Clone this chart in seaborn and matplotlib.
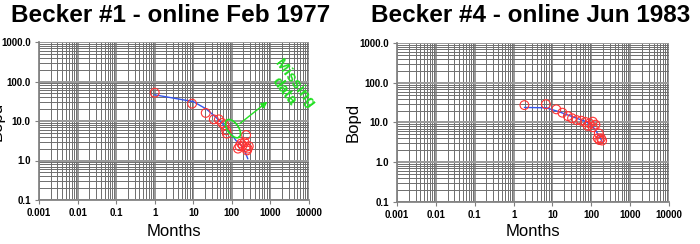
import numpy as np
import pandas as pd
import matplotlib
matplotlib.use("Agg")
import matplotlib.pyplot as plt
import seaborn as sns
from matplotlib.ticker import LogLocator, FixedLocator, NullFormatter

sns.set_theme(style="white")
plt.rcParams['font.family'] = ['Liberation Sans', 'DejaVu Sans']

# ---- data ----
titles = ["Becker #1 - online Feb 1977", "Becker #4 - online Jun 1983"]

w1_months = [1.0, 9.3, 21, 34, 46, 56, 65, 71, 74, 158, 234, 214, 191, 257, 229, 174, 275, 247, 144]
w1_bopd = [52, 27.5, 16, 11, 11, 8.9, 7.8, 5.8, 4.8, 2.3, 4.4, 2.9, 2.4, 2.0, 2.2, 2.7, 2.3, 1.8, 2.0]
w1_fit_months = [1, 10, 22, 40, 71, 128, 195, 260]
w1_fit_bopd = [46, 31, 20, 12, 7, 3.2, 2.2, 1.1]

w4_months = [1.9, 6.8, 12.6, 18, 25, 32, 42, 55, 71, 90, 109, 128, 81, 109, 156, 147, 162, 190, 178]
w4_bopd = [27.5, 29, 21.5, 17.7, 14.5, 12.8, 11.5, 11.1, 10.3, 9.5, 10.5, 8.8, 8.2, 7.6, 5.3, 4.0, 3.6, 3.5, 4.0]
w4_fit_months = [1.9, 6.9, 15, 41, 74, 120, 163, 190]
w4_fit_bopd = [24, 23.5, 18.6, 12.9, 10.5, 7.1, 4.4, 3.3]

x_ticks = [0.001, 0.01, 0.1, 1, 10, 100, 1000, 10000]
x_tick_labels = ["0.001", "0.01", "0.1", "1", "10", "100", "1000", "10000"]
y_ticks = [0.1, 1, 10, 100, 1000]
y_tick_labels = ["0.1", "1.0", "10.0", "100.0", "1000.0"]

note_text = "Missing\ndata"

fig = plt.figure(figsize=(7.0, 2.44), dpi=100)
ax1 = fig.add_axes([39/700, 1-200/244, 270/700, 158/244])
ax2 = fig.add_axes([397/700, 1-201.7/244, 272/700, 158.4/244])

datasets = [
    (ax1, w1_months, w1_bopd, w1_fit_months, w1_fit_bopd, titles[0], 171/700),
    (ax2, w4_months, w4_bopd, w4_fit_months, w4_fit_bopd, titles[1], 531/700),
]

for ax, mx, by, fx, fy, title, tx in datasets:
    ax.set_xscale("log")
    ax.set_yscale("log")
    ax.set_xlim(0.001, 10000)
    ax.set_ylim(0.1, 1000)
    ax.xaxis.set_major_locator(FixedLocator(x_ticks))
    ax.yaxis.set_major_locator(FixedLocator(y_ticks))
    ax.set_xticklabels(x_tick_labels)
    ax.set_yticklabels(y_tick_labels)
    ax.xaxis.set_minor_locator(LogLocator(base=10, subs=np.arange(2, 10), numticks=100))
    ax.yaxis.set_minor_locator(LogLocator(base=10, subs=np.arange(2, 10), numticks=100))
    ax.xaxis.set_minor_formatter(NullFormatter())
    ax.yaxis.set_minor_formatter(NullFormatter())
    ax.grid(True, which="major", color="#9a9a9a", lw=1.4)
    ax.grid(True, which="minor", color="#6e6e6e", lw=0.7)
    ax.set_axisbelow(True)
    for s in ax.spines.values():
        s.set_visible(False)
    ax.spines["left"].set_visible(True)
    ax.spines["bottom"].set_visible(True)
    ax.spines["left"].set_color("#808080")
    ax.spines["bottom"].set_color("#808080")
    ax.tick_params(axis="both", which="major", length=3, width=0.8, color="#808080",
                   direction="out", pad=3)
    ax.tick_params(axis="both", which="minor", length=0)
    ax.tick_params(axis="x", labelsize=7)
    ax.tick_params(axis="y", labelsize=7)
    for lab in ax.get_xticklabels() + ax.get_yticklabels():
        lab.set_fontweight("bold")
        lab.set_color("black")
    ax.tick_params(axis="x", which="major", bottom=True)
    ax.tick_params(axis="y", which="major", left=True)

    fit = pd.DataFrame({"Months": fx, "Bopd": fy})
    sns.lineplot(data=fit, x="Months", y="Bopd", ax=ax, color="#3355ee", lw=1.0,
                 sort=False, estimator=None)
    pts = pd.DataFrame({"Months": mx, "Bopd": by})
    sns.scatterplot(data=pts, x="Months", y="Bopd", ax=ax, marker="o", s=40,
                    facecolor="none", edgecolor="#ff3333", linewidth=0.8, zorder=3)

    ax.set_xlabel("Months", fontsize=12, color="black")
    ax.set_ylabel("Bopd", fontsize=12, color="black")
    fig.text(tx, 1-15/244, title, ha="center", va="center", fontsize=17.5,
             fontweight="bold", color="black")

ax1.yaxis.set_label_coords((5-39)/270, 0.5)
ax2.yaxis.set_label_coords((361-397)/272, 0.5)
ax1.xaxis.set_label_coords(0.5, -(232-200)/158)
ax2.xaxis.set_label_coords(0.5, -(232-201.7)/158.4)
ax1.xaxis.label.set_va("center")
ax2.xaxis.label.set_va("center")

# annotation on the first panel
green = "#22e022"
cx, cy = np.log10(107), np.log10(6.4)
t = np.linspace(0, 2*np.pi, 100)
ang = np.deg2rad(-55)
a_px, b_px = 10.5, 5.5
dxp = a_px*np.cos(t)*np.cos(ang) - b_px*np.sin(t)*np.sin(ang)
dyp = a_px*np.cos(t)*np.sin(ang) + b_px*np.sin(t)*np.cos(ang)
ax1.plot(10**(cx + dxp/38.6), 10**(cy + dyp/39.5), color=green, lw=1.2, zorder=4)
ax1.annotate("", xy=(950, 34), xytext=(142, 7.8),
             arrowprops=dict(arrowstyle="-|>", color=green, lw=1.0, mutation_scale=9),
             zorder=4)
ax1.text(3100, 72, note_text, color=green, fontsize=11, fontweight="bold",
         rotation=-53, ha="center", va="center", linespacing=0.95, zorder=5)

fig.savefig("out.png", dpi=100)
